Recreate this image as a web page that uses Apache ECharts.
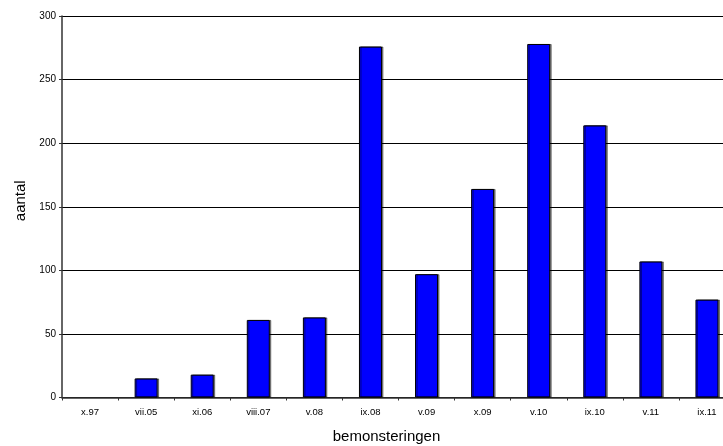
<!DOCTYPE html>
<html><head><meta charset="utf-8">
<script src="https://cdn.jsdelivr.net/npm/echarts@6/dist/echarts.min.js"></script>
<style>html,body{margin:0;padding:0;background:#fff}#c{width:723px;height:446px}</style>
</head><body><div id="c"></div>
<script>
const categories = ["x.97","vii.05","xi.06","viii.07","v.08","ix.08","v.09","x.09","v.10","ix.10","v.11","ix.11"];
const values = [0,15,18,61,63,276,97,164,278,214,107,77];
const yTicks = [0,50,100,150,200,250,300];

const chart = echarts.init(document.getElementById('c'), null, {renderer:'canvas'});
chart.setOption({
  animation:false,
  backgroundColor:'#fff',
  textStyle:{fontFamily:'Liberation Sans, Arial, sans-serif'},
  grid:{left:62, top:16, width:673, height:381.5, containLabel:false, outerBoundsMode:'none'},
  xAxis:{
    type:'category', data:categories,
    name:'bemonsteringen', nameLocation:'middle', nameGap:32,
    nameTextStyle:{fontSize:15, color:'#000', fontFamily:'Liberation Sans, Arial, sans-serif', padding:[0,24,0,0]},
    axisLine:{lineStyle:{color:'#333', width:1.5}},
    axisTick:{show:true, alignWithLabel:false, length:3, lineStyle:{color:'#333'}},
    axisLabel:{fontSize:9.5, color:'#000', margin:10}
  },
  yAxis:{
    type:'value', min:0, max:300, interval:50,
    name:'aantal', nameLocation:'middle', nameGap:33, nameRotate:90,
    nameTextStyle:{fontSize:15, color:'#000', fontFamily:'Liberation Sans, Arial, sans-serif', padding:[0,0,0,12]},
    axisLine:{show:true, lineStyle:{color:'#333', width:1.5}},
    axisTick:{show:true, length:3, lineStyle:{color:'#333'}},
    axisLabel:{fontSize:10, color:'#000', margin:6},
    splitLine:{show:true, lineStyle:{color:'#000', width:1}}
  },
  series:[{
    type:'bar', barWidth:'41%',
    data: values.map(v => v === 0 ? {value:v, itemStyle:{borderWidth:0, shadowColor:'transparent', color:'transparent'}} : v),
    itemStyle:{color:'#0000ff', borderColor:'#000', borderWidth:1,
      shadowColor:'rgba(0,0,0,0.45)', shadowOffsetX:1.5, shadowOffsetY:0, shadowBlur:0}
  }]
});
</script></body></html>
